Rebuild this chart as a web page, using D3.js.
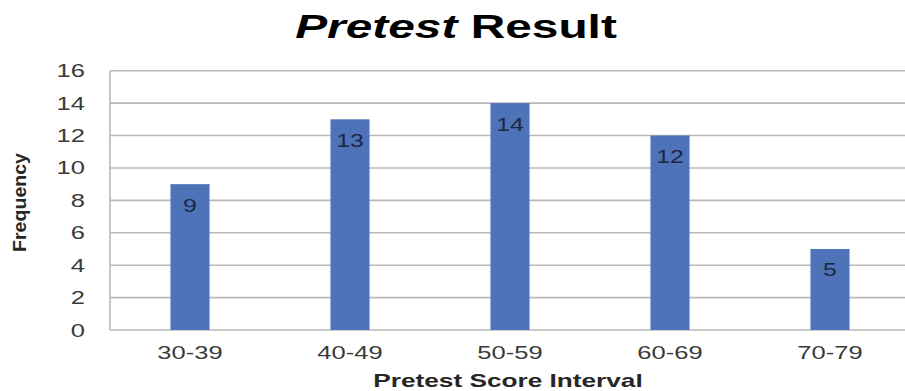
<!DOCTYPE html>
<html>
<head>
<meta charset="utf-8">
<script src="https://cdn.jsdelivr.net/npm/d3@7"></script>
<style>
  html, body { margin: 0; padding: 0; background: #fff; }
  svg { display: block; font-family: "Liberation Sans", Arial, sans-serif; }
</style>
</head>
<body>
<svg id="chart" width="905" height="391"></svg>
<script>
// Frequency of pretest scores per interval
const categories = ["30-39", "40-49", "50-59", "60-69", "70-79"];
const frequencies = [9, 13, 14, 12, 5];
const yTicks = [0, 2, 4, 6, 8, 10, 12, 14, 16];

const svg = d3.select("#chart");
const W = 905, H = 391;
const plot = { left: 110, right: 910, top: 70.7, bottom: 330 };
const sx = 1.42; // wide glyph proportions used for horizontal text

const x = d3.scaleBand()
  .domain(categories)
  .range([plot.left, plot.right])
  .paddingInner(0.756)
  .paddingOuter(0.378);

const y = d3.scaleLinear()
  .domain([0, 16])
  .range([plot.bottom, plot.top]);

// horizontal gridlines
svg.append("g")
  .selectAll("line")
  .data(yTicks)
  .join("line")
  .attr("x1", plot.left)
  .attr("x2", W)
  .attr("y1", d => y(d))
  .attr("y2", d => y(d))
  .attr("stroke", "#b8b8b8")
  .attr("stroke-width", 1.6);

// left border of the plot area
svg.append("line")
  .attr("x1", plot.left).attr("x2", plot.left)
  .attr("y1", y(16)).attr("y2", y(0))
  .attr("stroke", "#b8b8b8")
  .attr("stroke-width", 1.6);

// y tick labels
svg.append("g")
  .selectAll("text")
  .data(yTicks)
  .join("text")
  .attr("transform", d => `translate(85,${y(d) + 6.5}) scale(${sx},1)`)
  .attr("text-anchor", "end")
  .attr("font-size", 18)
  .attr("fill", "#3a3a3a")
  .text(d => d);

// bars
svg.append("g")
  .selectAll("rect")
  .data(frequencies)
  .join("rect")
  .attr("x", (d, i) => x(categories[i]))
  .attr("width", x.bandwidth())
  .attr("y", d => y(d))
  .attr("height", d => y(0) - y(d))
  .attr("fill", "#4f73b8");

// value labels inside the bars
svg.append("g")
  .selectAll("text")
  .data(frequencies)
  .join("text")
  .attr("transform", (d, i) => `translate(${x(categories[i]) + x.bandwidth() / 2},${y(d) + 27.5}) scale(1.38,1)`)
  .attr("text-anchor", "middle")
  .attr("font-size", 18)
  .attr("fill", "#1c2743")
  .text(d => d);

// x tick labels
svg.append("g")
  .selectAll("text")
  .data(categories)
  .join("text")
  .attr("transform", d => `translate(${x(d) + x.bandwidth() / 2},359) scale(${sx},1)`)
  .attr("text-anchor", "middle")
  .attr("font-size", 18)
  .attr("fill", "#3a3a3a")
  .text(d => d);

// x axis title
svg.append("text")
  .attr("transform", `translate(508,387) scale(1.38,1)`)
  .attr("text-anchor", "middle")
  .attr("font-size", 19)
  .attr("font-weight", "bold")
  .attr("fill", "#262626")
  .text("Pretest  Score Interval");

// y axis title
svg.append("text")
  .attr("transform", `translate(26,202.5) rotate(-90)`)
  .attr("text-anchor", "middle")
  .attr("font-size", 18)
  .attr("font-weight", "bold")
  .attr("fill", "#262626")
  .attr("textLength", 99)
  .attr("lengthAdjust", "spacingAndGlyphs")
  .text("Frequency");

// chart title
const title = svg.append("text")
  .attr("transform", `translate(456,38) scale(1.45,1)`)
  .attr("text-anchor", "middle")
  .attr("font-size", 33)
  .attr("font-weight", "bold")
  .attr("fill", "#000");
title.append("tspan").attr("font-style", "italic").text("Pretest");
title.append("tspan").text(" Result");
</script>
</body>
</html>
